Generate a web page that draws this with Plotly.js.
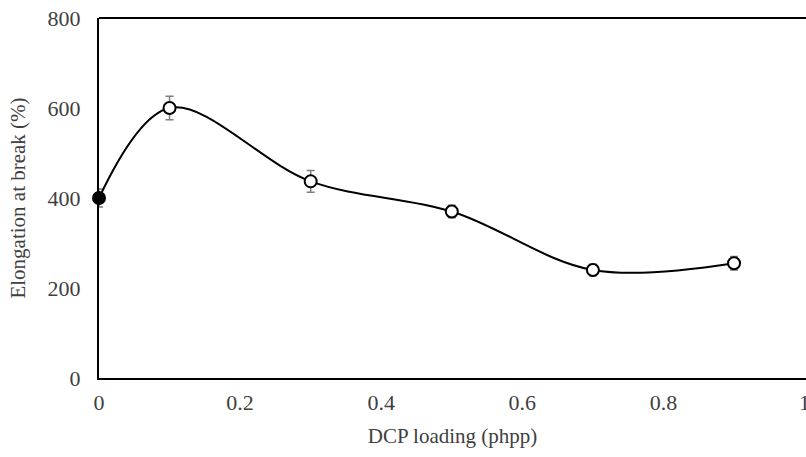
<!DOCTYPE html>
<html><head><meta charset="utf-8">
<script src="https://cdn.plot.ly/plotly-3.0.1.min.js"></script>
<style>html,body{margin:0;padding:0;background:#fff}</style>
</head><body><div id="chart" style="width:806px;height:457px"></div>
<script>
var dcpLoading = [0, 0.1, 0.3, 0.5, 0.7, 0.9];
var elongation = [400, 600, 437, 370, 240, 255];
var elongationErr = [20, 26, 24, 14, 13, 15];
var markerFill = ['#000000', '#ffffff', '#ffffff', '#ffffff', '#ffffff', '#ffffff'];
var xTicks = [0, 0.2, 0.4, 0.6, 0.8, 1];
var xTickText = ['0', '0.2', '0.4', '0.6', '0.8', '1'];
var yTicks = [0, 200, 400, 600, 800];

var trace = {
  x: dcpLoading, y: elongation, type: 'scatter', mode: 'lines+markers',
  line: {shape: 'spline', smoothing: 1, color: '#000', width: 2},
  marker: {size: 12, color: markerFill, line: {color: '#000', width: 2}},
  error_y: {type: 'data', array: elongationErr, visible: true, color: '#7f7f7f', thickness: 1.5, width: 4},
  cliponaxis: false
};
var fam = 'Liberation Serif, Times New Roman, serif';
var tickFont = {family: fam, size: 22, color: '#404040'};
var titleFont = {family: fam, size: 21, color: '#404040'};
var layout = {
  width: 806, height: 457,
  margin: {l: 99, r: 0, t: 18, b: 79},
  paper_bgcolor: '#fff', plot_bgcolor: '#fff',
  showlegend: false,
  font: tickFont,
  xaxis: {range: [0, 1.002], tickvals: xTicks, ticktext: xTickText, showgrid: false, zeroline: false,
    showline: true, linecolor: '#000', linewidth: 2, mirror: false, ticks: '', ticklen: 0,
    automargin: false, tickfont: tickFont, ticklabelstandoff: 4, ticklabeloverflow: 'allow',
    title: {text: 'DCP loading (phpp)', font: titleFont, standoff: 14}},
  yaxis: {range: [0, 800], tickvals: yTicks, showgrid: false, zeroline: false,
    showline: true, linecolor: '#000', linewidth: 2, ticks: '', automargin: false, tickfont: tickFont,
    ticklabelstandoff: 12,
    title: {text: 'Elongation at break (%)', font: titleFont, standoff: 16}},
  shapes: [{type: 'line', xref: 'paper', yref: 'paper', x0: 0, x1: 1.01, y0: 1, y1: 1,
    line: {color: '#000', width: 2}}]
};
Plotly.newPlot('chart', [trace], layout, {displayModeBar: false, staticPlot: true});
</script></body></html>
